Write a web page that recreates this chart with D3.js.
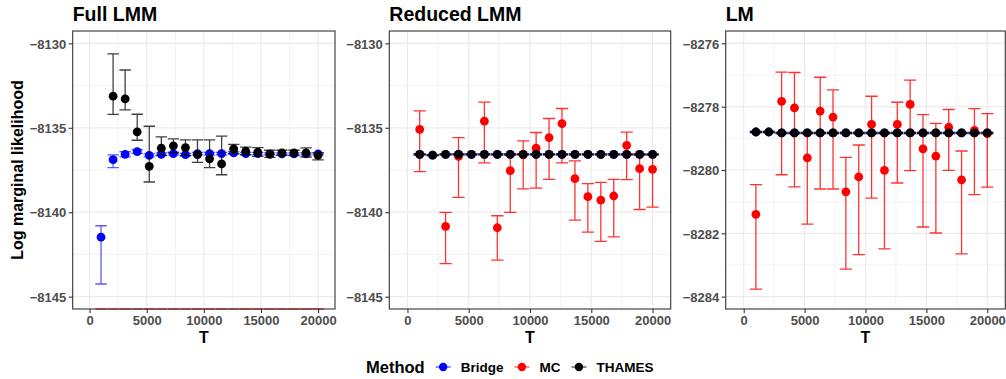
<!DOCTYPE html>
<html>
<head>
<meta charset="utf-8">
<script src="https://cdn.jsdelivr.net/npm/d3@7"></script>
<style>
  body { margin: 0; background: #fff; }
  text { font-family: "Liberation Sans", Arial, sans-serif; }
</style>
</head>
<body>
<svg id="chart" width="1006" height="379"></svg>
<script>
// number of MCMC draws
const T = [1000, 2056, 3111, 4167, 5222, 6278, 7333, 8389, 9444, 10500,
  11556, 12611, 13667, 14722, 15778, 16833, 17889, 18944, 20000];

const methods = ["Bridge", "MC", "THAMES"];
const methodColors = ["#0000FF", "#FF0000", "#000000"];

// each entry: [lower, estimate, upper]; null = not shown
const fullBridge = [
  [-8144.25, -8141.48, -8140.80], [-8137.36, -8136.89, -8136.61], [-8136.72, -8136.57, -8136.42],
  [-8136.52, -8136.41, -8136.30], [-8136.72, -8136.63, -8136.54], [-8136.65, -8136.57, -8136.49],
  [-8136.61, -8136.53, -8136.45], [-8136.67, -8136.59, -8136.51], [-8136.60, -8136.53, -8136.46],
  [-8136.60, -8136.53, -8136.46], [-8136.60, -8136.53, -8136.46], [-8136.56, -8136.49, -8136.42],
  [-8136.60, -8136.53, -8136.46], [-8136.60, -8136.53, -8136.46], [-8136.61, -8136.55, -8136.49],
  [-8136.61, -8136.55, -8136.49], [-8136.61, -8136.55, -8136.49], [-8136.61, -8136.55, -8136.49],
  [-8136.61, -8136.55, -8136.49]
];
// MC estimates for the full model lie far below the plotted range
const fullMC = [
  [-8152, -8150, -8148], [-8152, -8150, -8148], [-8152, -8150, -8148], [-8152, -8150, -8148],
  [-8152, -8150, -8148], [-8152, -8150, -8148], [-8152, -8150, -8148], [-8152, -8150, -8148],
  [-8152, -8150, -8148], [-8152, -8150, -8148], [-8152, -8150, -8148], [-8152, -8150, -8148],
  [-8152, -8150, -8148], [-8152, -8150, -8148], [-8152, -8150, -8148], [-8152, -8150, -8148],
  [-8152, -8150, -8148], [-8152, -8150, -8148], [-8152, -8150, -8148]
];
const fullThames = [
  null, [-8134.21, -8133.13, -8130.63], [-8133.94, -8133.29, -8131.58],
  [-8135.74, -8135.24, -8134.20], [-8138.21, -8137.28, -8134.91], [-8136.63, -8136.21, -8135.54],
  [-8136.49, -8136.07, -8135.66], [-8136.63, -8136.17, -8135.72], [-8137.05, -8136.59, -8135.72],
  [-8137.36, -8136.84, -8135.72], [-8137.78, -8137.14, -8135.50], [-8136.53, -8136.25, -8135.98],
  [-8136.59, -8136.39, -8136.15], [-8136.69, -8136.45, -8136.17], [-8136.75, -8136.57, -8136.33],
  [-8136.63, -8136.49, -8136.33], [-8136.65, -8136.49, -8136.33], [-8136.73, -8136.49, -8136.19],
  [-8136.90, -8136.63, -8136.49]
];

const reducedBridge = [
  [-8136.60, -8136.57, -8136.54], [-8136.65, -8136.62, -8136.59], [-8136.60, -8136.57, -8136.54],
  [-8136.60, -8136.57, -8136.54], [-8136.60, -8136.57, -8136.54], [-8136.60, -8136.57, -8136.54],
  [-8136.60, -8136.57, -8136.54], [-8136.60, -8136.57, -8136.54], [-8136.60, -8136.57, -8136.54],
  [-8136.60, -8136.57, -8136.54], [-8136.60, -8136.57, -8136.54], [-8136.60, -8136.57, -8136.54],
  [-8136.60, -8136.57, -8136.54], [-8136.60, -8136.57, -8136.54], [-8136.60, -8136.57, -8136.54],
  [-8136.60, -8136.57, -8136.54], [-8136.60, -8136.57, -8136.54], [-8136.60, -8136.57, -8136.54],
  [-8136.60, -8136.57, -8136.54]
];
const reducedMC = [
  [-8137.60, -8135.10, -8134.00], null, [-8143.04, -8140.84, -8140.01],
  [-8139.12, -8136.70, -8135.58], null, [-8137.08, -8134.61, -8133.48],
  [-8142.84, -8140.92, -8140.21], [-8140.01, -8137.54, -8136.60], [-8138.62, -8136.60, -8135.78],
  [-8138.57, -8136.21, -8135.28], [-8138.05, -8135.58, -8134.45], [-8137.08, -8134.75, -8133.86],
  [-8140.47, -8138.01, -8136.96], [-8141.18, -8139.08, -8138.31], [-8141.73, -8139.28, -8138.23],
  [-8141.46, -8139.04, -8138.05], [-8138.07, -8136.04, -8135.26], [-8139.84, -8137.42, -8136.60],
  [-8139.70, -8137.46, -8136.60]
];
const reducedThames = [
  [-8136.60, -8136.57, -8136.54], [-8136.65, -8136.62, -8136.59], [-8136.60, -8136.57, -8136.54],
  [-8136.60, -8136.57, -8136.54], [-8136.60, -8136.57, -8136.54], [-8136.60, -8136.57, -8136.54],
  [-8136.60, -8136.57, -8136.54], [-8136.60, -8136.57, -8136.54], [-8136.60, -8136.57, -8136.54],
  [-8136.60, -8136.57, -8136.54], [-8136.60, -8136.57, -8136.54], [-8136.60, -8136.57, -8136.54],
  [-8136.60, -8136.57, -8136.54], [-8136.60, -8136.57, -8136.54], [-8136.60, -8136.57, -8136.54],
  [-8136.60, -8136.57, -8136.54], [-8136.60, -8136.57, -8136.54], [-8136.60, -8136.57, -8136.54],
  [-8136.60, -8136.57, -8136.54]
];

const lmBridge = [
  [-8278.82, -8278.80, -8278.78], [-8278.82, -8278.80, -8278.78], [-8278.85, -8278.83, -8278.81],
  [-8278.85, -8278.83, -8278.81], [-8278.85, -8278.83, -8278.81], [-8278.85, -8278.83, -8278.81],
  [-8278.85, -8278.83, -8278.81], [-8278.85, -8278.83, -8278.81], [-8278.85, -8278.83, -8278.81],
  [-8278.85, -8278.83, -8278.81], [-8278.85, -8278.83, -8278.81], [-8278.85, -8278.83, -8278.81],
  [-8278.85, -8278.83, -8278.81], [-8278.85, -8278.83, -8278.81], [-8278.85, -8278.83, -8278.81],
  [-8278.85, -8278.83, -8278.81], [-8278.85, -8278.83, -8278.81], [-8278.85, -8278.83, -8278.81],
  [-8278.85, -8278.83, -8278.81]
];
const lmMC = [
  [-8283.76, -8281.40, -8280.46], null, [-8280.15, -8277.83, -8276.91],
  [-8280.53, -8278.04, -8276.92], [-8281.71, -8279.62, -8278.83], [-8280.60, -8278.14, -8277.07],
  [-8280.60, -8278.33, -8277.47], [-8283.13, -8280.69, -8279.60], [-8282.67, -8280.22, -8279.21],
  [-8280.89, -8278.56, -8277.67], [-8282.49, -8280.01, -8278.83], [-8280.41, -8278.56, -8277.86],
  [-8280.02, -8277.93, -8277.16], [-8281.80, -8279.33, -8278.25], [-8281.99, -8279.56, -8278.53],
  [-8280.01, -8278.65, -8278.09], [-8282.65, -8280.31, -8279.40], [-8280.78, -8278.75, -8278.06],
  [-8280.54, -8278.85, -8278.22]
];
const lmThames = [
  [-8278.82, -8278.80, -8278.78], [-8278.82, -8278.80, -8278.78], [-8278.85, -8278.83, -8278.81],
  [-8278.85, -8278.83, -8278.81], [-8278.85, -8278.83, -8278.81], [-8278.85, -8278.83, -8278.81],
  [-8278.85, -8278.83, -8278.81], [-8278.85, -8278.83, -8278.81], [-8278.85, -8278.83, -8278.81],
  [-8278.85, -8278.83, -8278.81], [-8278.85, -8278.83, -8278.81], [-8278.85, -8278.83, -8278.81],
  [-8278.85, -8278.83, -8278.81], [-8278.85, -8278.83, -8278.81], [-8278.85, -8278.83, -8278.81],
  [-8278.85, -8278.83, -8278.81], [-8278.85, -8278.83, -8278.81], [-8278.85, -8278.83, -8278.81],
  [-8278.85, -8278.83, -8278.81]
];

const xTicks = [0, 5000, 10000, 15000, 20000];
const xMinor = [2500, 7500, 12500, 17500];
const lmmTicks = [-8145, -8140, -8135, -8130];
const lmmMinor = [-8142.5, -8137.5, -8132.5];
const lmTicks = [-8284, -8282, -8280, -8278, -8276];
const lmMinor = [-8283, -8281, -8279, -8277];

const panels = [
  { title: "Full LMM", left: 72.7, right: 335, yDomain: [-8145.73, -8129.27], ticks: lmmTicks, minor: lmmMinor,
    series: [fullBridge, fullMC, fullThames] },
  { title: "Reduced LMM", left: 389.3, right: 670.7, yDomain: [-8145.73, -8129.27], ticks: lmmTicks, minor: lmmMinor,
    series: [reducedBridge, reducedMC, reducedThames] },
  { title: "LM", left: 725.7, right: 1005.3, yDomain: [-8284.39, -8275.61], ticks: lmTicks, minor: lmMinor,
    series: [lmBridge, lmMC, lmThames] }
];

const svg = d3.select("#chart");
const plotTop = 31, plotBottom = 309;
const capHalf = 500; // errorbar half width in T units
const fmt = d3.format("d");
const barOpacity = [0.65, 0.8, 0.75];

panels.forEach(p => {
  const g = svg.append("g");
  const x = d3.scaleLinear().domain([-1480, 21480]).range([p.left, p.right]);
  const y = d3.scaleLinear().domain(p.yDomain).range([plotBottom, plotTop]);
  const yc = y.copy().clamp(true);

  // grid
  g.selectAll(".xminor").data(xMinor).join("line")
    .attr("x1", d => x(d)).attr("x2", d => x(d)).attr("y1", plotTop).attr("y2", plotBottom)
    .attr("stroke", "#EBEBEB").attr("stroke-width", 0.6);
  g.selectAll(".yminor").data(p.minor).join("line")
    .attr("x1", p.left).attr("x2", p.right).attr("y1", d => y(d)).attr("y2", d => y(d))
    .attr("stroke", "#EBEBEB").attr("stroke-width", 0.6);
  g.selectAll(".xmajor").data(xTicks).join("line")
    .attr("x1", d => x(d)).attr("x2", d => x(d)).attr("y1", plotTop).attr("y2", plotBottom)
    .attr("stroke", "#EBEBEB").attr("stroke-width", 1.2);
  g.selectAll(".ymajor").data(p.ticks).join("line")
    .attr("x1", p.left).attr("x2", p.right).attr("y1", d => y(d)).attr("y2", d => y(d))
    .attr("stroke", "#EBEBEB").attr("stroke-width", 1.2);

  // data: errorbars then points, per method
  const clip = "clip-" + p.title.replace(/\s/g, "");
  svg.append("clipPath").attr("id", clip).append("rect")
    .attr("x", p.left).attr("y", plotTop - 1).attr("width", p.right - p.left).attr("height", plotBottom - plotTop + 2);
  const dg = g.append("g").attr("clip-path", `url(#${clip})`);

  p.series.forEach((s, k) => {
    const col = methodColors[k];
    const rows = s.map((v, i) => v ? { t: T[i], lo: v[0], est: v[1], hi: v[2] } : null).filter(d => d);
    dg.selectAll(null).data(rows).join("path")
      .attr("d", d => `M${x(d.t - capHalf)},${yc(d.hi)}H${x(d.t + capHalf)}M${x(d.t)},${yc(d.hi)}V${yc(d.lo)}M${x(d.t - capHalf)},${yc(d.lo)}H${x(d.t + capHalf)}`)
      .attr("fill", "none").attr("stroke", col).attr("stroke-width", 1.3)
      .attr("stroke-opacity", barOpacity[k]);
    dg.selectAll(null).data(rows.filter(d => d.est >= p.yDomain[0] && d.est <= p.yDomain[1])).join("circle")
      .attr("cx", d => x(d.t)).attr("cy", d => y(d.est)).attr("r", 4.4)
      .attr("fill", col);
  });

  // panel border on top of the data
  g.append("rect").attr("x", p.left).attr("y", plotTop)
    .attr("width", p.right - p.left).attr("height", plotBottom - plotTop)
    .attr("fill", "none").attr("stroke", "#333333").attr("stroke-width", 1.1);

  // axes
  const xAxis = g.append("g").attr("transform", `translate(0,${plotBottom})`)
    .call(d3.axisBottom(x).tickValues(xTicks).tickFormat(fmt).tickSize(4).tickPadding(3));
  const yAxis = g.append("g").attr("transform", `translate(${p.left},0)`)
    .call(d3.axisLeft(y).tickValues(p.ticks).tickFormat(fmt).tickSize(4).tickPadding(2.5));
  [xAxis, yAxis].forEach(a => {
    a.select(".domain").remove();
    a.selectAll("line").attr("stroke", "#333333").attr("stroke-width", 1.1);
    a.selectAll("text").attr("fill", "#4D4D4D").style("font-size", "13px")
      .style("font-weight", "bold").style("font-family", '"Liberation Sans", Arial, sans-serif');
  });
  yAxis.selectAll("text").attr("dy", "0.36em");

  // titles
  g.append("text").attr("x", p.left).attr("y", 20.5)
    .style("font-size", "19.5px").style("font-weight", "bold").attr("fill", "#000")
    .text(p.title);
  g.append("text").attr("x", (p.left + p.right) / 2).attr("y", 343)
    .attr("text-anchor", "middle").style("font-size", "16px").style("font-weight", "bold")
    .attr("fill", "#000").text("T");
});

svg.append("text").attr("transform", `translate(23,${(plotTop + plotBottom) / 2}) rotate(-90)`)
  .attr("text-anchor", "middle").style("font-size", "16px").style("font-weight", "bold")
  .attr("fill", "#000").text("Log marginal likelihood");

// legend
const lg = svg.append("g");
const lgTitle = lg.append("text").attr("x", 366).attr("y", 373)
  .style("font-size", "16.5px").style("font-weight", "bold").attr("fill", "#000").text("Method");
let cx = 366 + lgTitle.node().getComputedTextLength() + 11;
methods.forEach((m, k) => {
  lg.append("line").attr("x1", cx).attr("x2", cx + 15).attr("y1", 367).attr("y2", 367)
    .attr("stroke", methodColors[k]).attr("stroke-width", 1.3).attr("stroke-opacity", 0.7);
  lg.append("circle").attr("cx", cx + 7.5).attr("cy", 367).attr("r", 4.2).attr("fill", methodColors[k]);
  const t = lg.append("text").attr("x", cx + 25).attr("y", 372)
    .style("font-size", "13.5px").style("font-weight", "bold").attr("fill", "#000").text(m);
  cx += 25 + t.node().getComputedTextLength() + 11;
});
</script>
</body>
</html>
